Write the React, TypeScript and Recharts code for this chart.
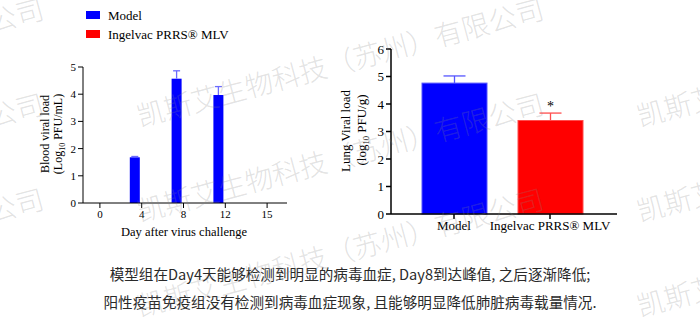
import React from "react";
import { BarChart, Bar, XAxis, YAxis } from "recharts";

// blood viral load by day (log10 PFU/mL)
const days = ["0", "4", "8", "12", "15"];
const modelBlood = [0, 1.68, 4.57, 3.97, 0];
const modelBloodErr = [0, 0.03, 0.29, 0.31, 0];
const ingelvacBlood = [0, 0, 0, 0, 0];
const ingelvacBloodErr = [0, 0, 0, 0, 0];

// lung viral load (log10 PFU/g)
const groups = ["Model", "Ingelvac PRRS® MLV"];
const lungLoad = [4.76, 3.4];
const lungErr = [0.26, 0.27];
const lungSig = ["", "*"];
const lungColors = ["#0000ff", "#ff0000"];
const lungErrColors = ["#5555ff", "#ff4d4d"];

const bloodTicks = [0, 1, 2, 3, 4, 5];
const lungTicks = [0, 1, 2, 3, 4, 5, 6];

const note1 = "模型组在Day4天能够检测到明显的病毒血症, Day8到达峰值, 之后逐渐降低;";
const note2 = "阳性疫苗免疫组没有检测到病毒血症现象, 且能够明显降低肺脏病毒载量情况.";
const watermark = "凯斯艾生物科技（苏州）有限公司";

const bloodData = days.map((d, i) => ({
  day: d,
  model: modelBlood[i],
  modelErr: modelBloodErr[i],
  ingelvac: ingelvacBlood[i],
  ingelvacErr: ingelvacBloodErr[i],
}));

const lungData = groups.map((g, i) => ({
  group: g,
  load: lungLoad[i],
  err: lungErr[i],
  sig: lungSig[i],
}));

const serif = "'Liberation Serif', 'Times New Roman', serif";

// bar with a one-sided (upper) error bar
const makeShape =
  (valKey: string, errKey: string, errColor: (i: number) => string, capW: number, border?: (i: number) => string) =>
  (props: any) => {
    const { x, y, width, height, fill, payload, index } = props;
    const val = payload[valKey];
    const err = payload[errKey];
    if (!val || height <= 0) return <g />;
    const px = height / val;
    const top = y - err * px;
    const cx = x + width / 2;
    const ec = errColor(index);
    return (
      <g>
        <rect x={x} y={y} width={width} height={height} fill={fill} stroke={border ? border(index) : "none"} strokeWidth={1} />
        {err > 0 && (
          <g stroke={ec} strokeWidth={1.3}>
            <line x1={cx} y1={y} x2={cx} y2={top} />
            <line x1={cx - capW / 2} y1={top} x2={cx + capW / 2} y2={top} />
          </g>
        )}
        {payload.sig && (
          <text x={cx} y={top - 2} textAnchor="middle" fontFamily={serif} fontSize={14} fill="#000">
            {payload.sig}
          </text>
        )}
      </g>
    );
  };

const Watermarks = () => {
  const xs = [-360, 140, 640];
  const ys = [127, 222, 317];
  return (
    <svg width={700} height={320} style={{ position: "absolute", left: 0, top: 0, pointerEvents: "none" }}>
      {xs.map((x) =>
        ys.map((y) => (
          <text
            key={x + "-" + y}
            x={x}
            y={y}
            transform={`rotate(-15 ${x} ${y})`}
            fontFamily="'Noto Sans CJK SC', sans-serif"
            fontWeight={300}
            fontSize={28}
            fill="#888"
            fillOpacity={0.24}
          >
            {watermark}
          </text>
        ))
      )}
    </svg>
  );
};

export default function App() {
  return (
    <div style={{ position: "absolute", left: 0, top: 0, width: 700, height: 320, background: "#fff", overflow: "hidden" }}>
      <div style={{ position: "absolute", left: 0, top: 0 }}>
        <BarChart
          width={300}
          height={250}
          data={bloodData}
          margin={{ top: 67, right: 13, bottom: 17, left: 53 }}
          barSize={10}
          barGap={4}
        >
          <XAxis
            dataKey="day"
            interval={0}
            height={30}
            padding={{ left: -4, right: -1 }}
            tickSize={5}
            stroke="#000"
            tick={{ fontSize: 11, fill: "#000", fontFamily: serif }}
          />
          <YAxis
            domain={[0, 5]}
            ticks={bloodTicks}
            width={30}
            tickSize={5}
            stroke="#000"
            tick={{ fontSize: 11, fill: "#000", fontFamily: serif }}
          />
          <Bar
            dataKey="model"
            fill="#0000ff"
            isAnimationActive={false}
            shape={makeShape("model", "modelErr", () => "#6b6bff", 7)}
          />
          <Bar
            dataKey="ingelvac"
            fill="#ff0000"
            isAnimationActive={false}
            shape={makeShape("ingelvac", "ingelvacErr", () => "#ff6b6b", 7)}
          />
        </BarChart>
      </div>

      <div style={{ position: "absolute", left: 330, top: 0 }}>
        <BarChart
          width={300}
          height={250}
          data={lungData}
          margin={{ top: 49, right: 13, bottom: 6, left: 31 }}
          barSize={65}
        >
          <XAxis
            dataKey="group"
            interval={0}
            height={30}
            padding={{ left: 15, right: 19 }}
            tickSize={5}
            stroke="#000"
            strokeWidth={1.5}
            tick={{ fontSize: 13, fill: "#000", fontFamily: serif }}
          />
          <YAxis
            domain={[0, 6]}
            ticks={lungTicks}
            width={30}
            tickSize={5}
            stroke="#000"
            strokeWidth={1.5}
            tick={{ fontSize: 13, fill: "#000", fontFamily: serif }}
          />
          <Bar
            dataKey="load"
            isAnimationActive={false}
            shape={(p: any) =>
              makeShape(
                "load",
                "err",
                (i) => lungErrColors[i],
                22,
                (i) => lungErrColors[i]
              )({ ...p, fill: lungColors[p.index] })
            }
          />
        </BarChart>
      </div>

      <svg width={700} height={320} style={{ position: "absolute", left: 0, top: 0 }}>
        {/* legend */}
        <rect x={86} y={11} width={14} height={8} fill="#0000ff" />
        <text x={108} y={19.5} fontFamily={serif} fontSize={13} fill="#000">Model</text>
        <rect x={86} y={30} width={14} height={8} fill="#ff0000" />
        <text x={108} y={38.5} fontFamily={serif} fontSize={13} fill="#000">Ingelvac PRRS® MLV</text>

        {/* left axis titles */}
        <text transform="translate(49 134) rotate(-90)" textAnchor="middle" fontFamily={serif} fontSize={12} fill="#000">
          Blood viral load
        </text>
        <text transform="translate(62 134) rotate(-90)" textAnchor="middle" fontFamily={serif} fontSize={12} fill="#000">
          (Log<tspan fontSize={8} dy={3}>10</tspan>
          <tspan dy={-3}> PFU/mL)</tspan>
        </text>
        <text x={184} y={236} textAnchor="middle" fontFamily={serif} fontSize={12.5} fill="#000">
          Day after virus challenge
        </text>

        {/* right axis titles */}
        <text transform="translate(350 131) rotate(-90)" textAnchor="middle" fontFamily={serif} fontSize={13} fill="#000">
          Lung Viral load
        </text>
        <text transform="translate(366 130) rotate(-90)" textAnchor="middle" fontFamily={serif} fontSize={13} fill="#000">
          (log<tspan fontSize={8.5} dy={3}>10</tspan>
          <tspan dy={-3}> PFU/g)</tspan>
        </text>

        {/* notes */}
        <text x={350} y={280} textAnchor="middle" fontFamily="'Noto Sans CJK SC', sans-serif" fontSize={14.6} fill="#2a2a2a">
          {note1}
        </text>
        <text x={350} y={308} textAnchor="middle" fontFamily="'Noto Sans CJK SC', sans-serif" fontSize={14.6} fill="#2a2a2a">
          {note2}
        </text>
      </svg>

      <Watermarks />
    </div>
  );
}
